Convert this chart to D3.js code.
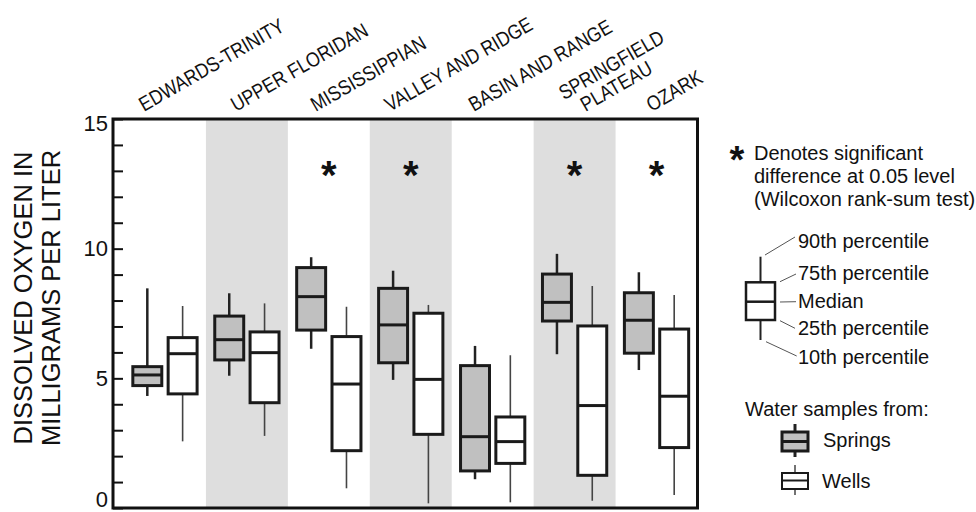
<!DOCTYPE html>
<html>
<head>
<meta charset="utf-8">
<script src="https://cdn.jsdelivr.net/npm/d3@7"></script>
<style>
  body { margin: 0; background: #fff; }
  svg { display: block; }
  text { font-family: "Liberation Sans", Arial, sans-serif; fill: #111; }
</style>
</head>
<body>
<svg id="chart" width="976" height="512"></svg>
<script>
// Aquifer regions, left to right
const regions = ["EDWARDS-TRINITY", "UPPER FLORIDAN", "MISSISSIPPIAN", "VALLEY AND RIDGE",
                 "BASIN AND RANGE", "SPRINGFIELD PLATEAU", "OZARK"];
const labelLines = [["EDWARDS-TRINITY"], ["UPPER FLORIDAN"], ["MISSISSIPPIAN"], ["VALLEY AND RIDGE"],
                    ["BASIN AND RANGE"], ["SPRINGFIELD", "PLATEAU"], ["OZARK"]];

// [10th, 25th, median, 75th, 90th] percentiles, mg/L
const springs = [
  [4.32, 4.72, 5.13, 5.45, 8.47],
  [5.10, 5.71, 6.49, 7.40, 8.28],
  [6.14, 6.86, 8.15, 9.27, 9.67],
  [4.94, 5.60, 7.06, 8.47, 9.15],
  [1.11, 1.43, 2.75, 5.49, 6.25],
  [5.93, 7.21, 7.93, 9.02, 9.80],
  [5.32, 5.97, 7.24, 8.30, 9.09]
];
const wells = [
  [2.57, 4.40, 5.95, 6.57, 7.79],
  [2.78, 4.06, 5.99, 6.79, 7.89],
  [0.76, 2.21, 4.78, 6.61, 7.76],
  [0.18, 2.84, 4.96, 7.51, 7.83],
  [0.22, 1.72, 2.56, 3.51, 5.89],
  [0.28, 1.26, 3.95, 7.02, 8.56],
  [0.50, 2.33, 4.31, 6.90, 8.21]
];
const significant = ["MISSISSIPPIAN", "VALLEY AND RIDGE", "SPRINGFIELD PLATEAU", "OZARK"];
const yTicks = d3.range(0, 16);
const yLabels = [0, 5, 10, 15];

// layout
const plot = { left: 113, right: 697.5, top: 119, bottom: 508 };
const labelShift = [-21, -11, -13, -21, -19, 11, -5]; // hand placed like the original

const svg = d3.select("#chart");

const x = d3.scaleBand().domain(regions).range([124, plot.right]);
const sub = d3.scaleBand().domain(["springs", "wells"]).range([0, x.bandwidth()])
  .paddingInner(0.18).paddingOuter(0.25);
const y = d3.scaleLinear().domain([0, 15]).range([plot.bottom, plot.top]);

// shaded columns
svg.append("g").selectAll("rect")
  .data(regions.filter((d, i) => i % 2 === 1))
  .join("rect")
  .attr("x", d => x(d))
  .attr("y", plot.top)
  .attr("width", x.bandwidth())
  .attr("height", plot.bottom - plot.top)
  .attr("fill", "#dedede");

// draw one box from pixel positions [lo, q1, med, q3, hi]
function drawBox(g, cx, w, p, style) {
  g.append("line")
    .attr("x1", cx).attr("x2", cx).attr("y1", p[0]).attr("y2", p[4])
    .attr("stroke", style.whisker).attr("stroke-width", style.whiskerWidth);
  g.append("rect")
    .attr("x", cx - w / 2).attr("y", p[3])
    .attr("width", w).attr("height", p[1] - p[3])
    .attr("fill", style.fill).attr("stroke", "#1a1a1a").attr("stroke-width", style.boxWidth);
  g.append("line")
    .attr("x1", cx - w / 2).attr("x2", cx + w / 2).attr("y1", p[2]).attr("y2", p[2])
    .attr("stroke", "#1a1a1a").attr("stroke-width", style.boxWidth);
}

const springStyle = { fill: "#c0c0c0", whisker: "#222", whiskerWidth: 2.5, boxWidth: 3 };
const wellStyle = { fill: "#fff", whisker: "#444", whiskerWidth: 1.6, boxWidth: 3 };

const boxes = svg.append("g");
regions.forEach((r, i) => {
  const cs = x(r) + sub("springs") + sub.bandwidth() / 2;
  const cw = x(r) + sub("wells") + sub.bandwidth() / 2;
  drawBox(boxes, cs, sub.bandwidth(), springs[i].map(y), springStyle);
  drawBox(boxes, cw, sub.bandwidth(), wells[i].map(y), wellStyle);
});

// significance asterisks
svg.append("g").selectAll("text")
  .data(significant)
  .join("text")
  .attr("x", d => x(d) + x.bandwidth() / 2)
  .attr("y", y(13.2) + 23)
  .attr("text-anchor", "middle")
  .attr("font-size", 40)
  .attr("font-weight", "bold")
  .text("*");

// frame and inward ticks
const yAxis = svg.append("g")
  .attr("transform", `translate(${plot.left},0)`)
  .call(d3.axisLeft(y).tickValues(yTicks).tickSize(-10).tickFormat(""));
yAxis.select(".domain").remove();
yAxis.selectAll(".tick line").attr("stroke", "#111").attr("stroke-width", 2);

svg.append("rect")
  .attr("x", plot.left).attr("y", plot.top)
  .attr("width", plot.right - plot.left).attr("height", plot.bottom - plot.top)
  .attr("fill", "none").attr("stroke", "#111").attr("stroke-width", 3);

svg.append("g").selectAll("text")
  .data(yLabels)
  .join("text")
  .attr("x", 108)
  .attr("y", d => Math.min(499, Math.max(123, y(d))))
  .attr("dy", "0.35em")
  .attr("text-anchor", "end")
  .attr("font-size", 22)
  .text(d => d);

// y title
const yTitle = svg.append("text")
  .attr("transform", "translate(0,298) rotate(-90)")
  .attr("text-anchor", "middle")
  .attr("font-size", 25.5);
yTitle.append("tspan").attr("x", 0).attr("y", 32).text("DISSOLVED OXYGEN IN");
yTitle.append("tspan").attr("x", 0).attr("y", 60).text("MILLIGRAMS PER LITER");

// rotated region labels (narrow face, like the original)
regions.forEach((r, i) => {
  const g = svg.append("g")
    .attr("transform", `translate(${x(r) + x.bandwidth() / 2 + labelShift[i]},112) rotate(-30) scale(0.86,1)`);
  const lines = labelLines[i];
  lines.forEach((t, j) => {
    const k = lines.length - 1 - j;
    g.append("text")
      .attr("x", -15 * k).attr("y", -21 * k)
      .attr("font-size", 20.5)
      .text(t);
  });
});

// legend
const lg = svg.append("g");
lg.append("text").attr("x", 737).attr("y", 173).attr("text-anchor", "middle")
  .attr("font-size", 38).attr("font-weight", "bold").text("*");
["Denotes significant", "difference at 0.05 level", "(Wilcoxon rank-sum test)"].forEach((t, j) => {
  lg.append("text").attr("x", 754).attr("y", 160 + j * 23).attr("font-size", 20).text(t);
});

drawBox(lg, 760.5, 29, [340, 320, 301.7, 282.3, 256.7],
  { fill: "#fff", whisker: "#222", whiskerWidth: 2, boxWidth: 2.5 });

const leaders = [
  { text: "90th percentile", from: [765, 255], to: [795, 237], ty: 248 },
  { text: "75th percentile", from: [780, 281.7], to: [796, 274], ty: 280 },
  { text: "Median", from: [780, 302], to: [796, 301.7], ty: 307.5 },
  { text: "25th percentile", from: [780, 320.7], to: [795, 328.3], ty: 334.5 },
  { text: "10th percentile", from: [766, 341.7], to: [796.7, 356], ty: 364 }
];
leaders.forEach(d => {
  lg.append("line")
    .attr("x1", d.from[0]).attr("y1", d.from[1]).attr("x2", d.to[0]).attr("y2", d.to[1])
    .attr("stroke", "#555").attr("stroke-width", 1);
  lg.append("text").attr("x", 798).attr("y", d.ty).attr("font-size", 20).text(d.text);
});

lg.append("text").attr("x", 745).attr("y", 416).attr("font-size", 20).text("Water samples from:");
drawBox(lg, 795, 26, [457, 451, 441.5, 432, 424], { ...springStyle, whiskerWidth: 3 });
lg.append("text").attr("x", 823).attr("y", 447).attr("font-size", 20).text("Springs");
drawBox(lg, 795, 26, [495, 489, 480.5, 473, 465], { ...wellStyle, boxWidth: 2, whiskerWidth: 1.5 });
lg.append("text").attr("x", 822).attr("y", 487.5).attr("font-size", 20).text("Wells");
</script>
</body>
</html>
